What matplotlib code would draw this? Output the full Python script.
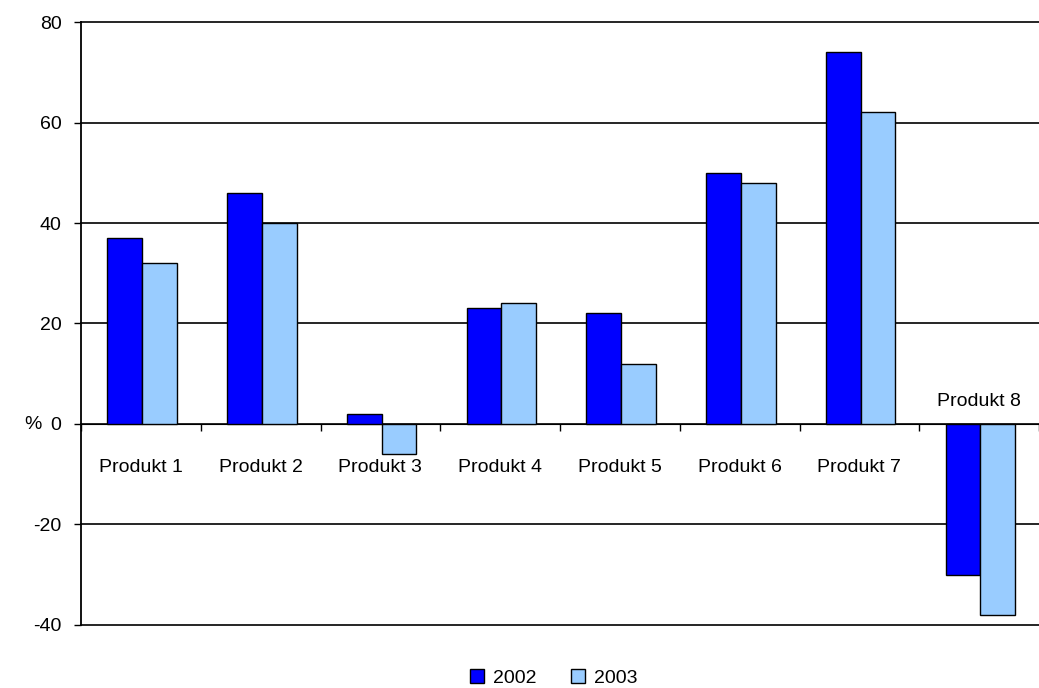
import matplotlib.pyplot as plt
import numpy as np

plt.rcParams['font.family'] = ['Liberation Sans', 'DejaVu Sans']
plt.rcParams['axes.unicode_minus'] = False

categories = ['Produkt 1', 'Produkt 2', 'Produkt 3', 'Produkt 4',
              'Produkt 5', 'Produkt 6', 'Produkt 7', 'Produkt 8']
values_2002 = [37, 46, 2, 23, 22, 50, 74, -30]
values_2003 = [32, 40, -6, 24, 12, 48, 62, -38]
years = ['2002', '2003']
colors = ['#0000FF', '#99CCFF']

fig = plt.figure(figsize=(10.39, 6.88), dpi=100)
ax = fig.add_axes([0.078, 0.0916, 0.922, 0.8764])

x = np.arange(len(categories))
w = 0.29
ax.bar(x - w / 2 + 0.01, values_2002, w, color=colors[0], edgecolor='black',
       linewidth=1, label=years[0], zorder=3)
ax.bar(x + w / 2 + 0.01, values_2003, w, color=colors[1], edgecolor='black',
       linewidth=1, label=years[1], zorder=3)

ax.set_xlim(-0.5, len(categories) - 0.5)
ax.set_ylim(-40, 80)
ax.set_yticks(np.arange(-40, 81, 20))
ax.yaxis.grid(True, color='black', linewidth=1.2)
for gl in ax.get_ygridlines():
    gl.set_clip_on(False)
ax.set_axisbelow(True)

ax.spines['bottom'].set_position(('data', 0))
ax.spines['top'].set_visible(False)
ax.spines['right'].set_visible(False)
ax.spines['left'].set_linewidth(1.3)
ax.set_xticks(np.arange(-0.5, len(categories) - 0.4, 1))
ax.set_xticklabels([])
ax.tick_params(axis='x', direction='out', length=5, width=1)
ax.tick_params(axis='y', direction='out', length=5, width=1, labelsize=14, pad=9)

for i, name in enumerate(categories):
    if min(values_2002[i], values_2003[i]) < -20:
        ax.annotate(name, (i, 0), xytext=(0, 16), textcoords='offset points',
                    ha='center', va='center', fontsize=14)
    else:
        ax.annotate(name, (i, 0), xytext=(0, -31), textcoords='offset points',
                    ha='center', va='center', fontsize=14)

ax.set_ylabel('%', rotation=0, fontsize=14, va='center', ha='center')
ax.yaxis.set_label_coords(-0.05, 0.3333)

fig.legend(loc='lower center', bbox_to_anchor=(0.533, -0.024), ncol=2,
           frameon=False, fontsize=14, handlelength=0.7, handleheight=0.7,
           handletextpad=0.45, columnspacing=1.8)

fig.savefig('out.png', dpi=100)
